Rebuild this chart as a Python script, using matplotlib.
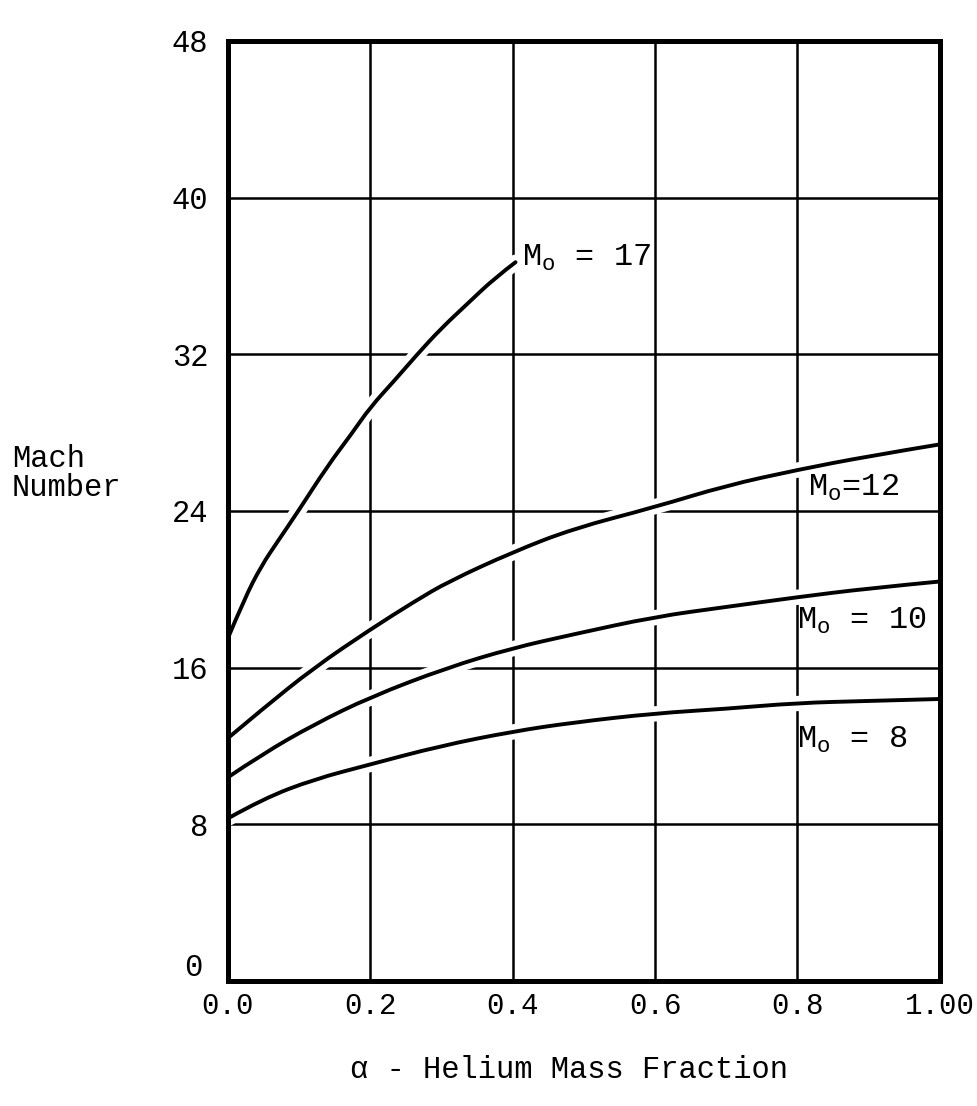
import matplotlib
matplotlib.use("Agg")
import matplotlib.pyplot as plt
import matplotlib.patheffects as pe
from matplotlib.path import Path
from matplotlib.patches import PathPatch
from matplotlib.transforms import ScaledTranslation

plt.rcParams['font.family'] = ['Liberation Mono', 'DejaVu Sans Mono']
plt.rcParams['mathtext.default'] = 'regular'

# values
alpha_17 = [0.0, 0.023, 0.047, 0.071, 0.099, 0.14, 0.173, 0.2, 0.235, 0.266, 0.299, 0.337, 0.375, 0.404]
mach_17 = [17.5, 19.5, 21.2, 22.5, 24.0, 26.3, 27.9, 29.3, 30.7, 32.0, 33.3, 34.6, 35.9, 36.7]

alpha_12 = [0.0, 0.049, 0.121, 0.2, 0.263, 0.31, 0.4, 0.485, 0.6, 0.7, 0.8, 0.9, 1.0]
mach_12 = [12.4, 13.9, 16.0, 17.95, 19.4, 20.4, 21.9, 23.1, 24.2, 25.3, 26.1, 26.8, 27.4]

alpha_10 = [0.0, 0.049, 0.121, 0.2, 0.308, 0.4, 0.485, 0.6, 0.7, 0.8, 0.9, 1.0]
mach_10 = [10.4, 11.6, 13.1, 14.5, 16.0, 17.0, 17.7, 18.6, 19.1, 19.6, 20.05, 20.4]

alpha_8 = [0.0, 0.049, 0.121, 0.2, 0.298, 0.4, 0.485, 0.6, 0.7, 0.8, 0.9, 1.0]
mach_8 = [8.3, 9.3, 10.3, 11.06, 12.0, 12.74, 13.2, 13.67, 13.9, 14.2, 14.3, 14.4]

xticks = [0.0, 0.2, 0.4, 0.6, 0.8, 1.0]
xticklabels = ["0.0", "0.2", "0.4", "0.6", "0.8", "1.00"]
yticks = [0, 8, 16, 24, 32, 40, 48]


def smooth_path(xs, ys):
    # quadratic bezier pieces: read points act as control points, pieces join at midpoints
    pts = list(zip(xs, ys))
    verts = [pts[0]]
    codes = [Path.MOVETO]
    for i in range(1, len(pts) - 1):
        mid = ((pts[i][0] + pts[i + 1][0]) / 2, (pts[i][1] + pts[i + 1][1]) / 2)
        if i == len(pts) - 2:
            mid = pts[-1]
        verts += [pts[i], mid]
        codes += [Path.CURVE3, Path.CURVE3]
    return Path(verts, codes)


fig = plt.figure(figsize=(9.78, 11.06), dpi=100)
ax = fig.add_axes([0.233, 0.113, 0.728, 0.85])

# white halo under each curve breaks the grid lines like the hand-drafted original
halo = [pe.Stroke(linewidth=11, foreground="white"), pe.Normal()]
for a, m in [(alpha_17, mach_17), (alpha_12, mach_12), (alpha_10, mach_10), (alpha_8, mach_8)]:
    patch = PathPatch(smooth_path(a, m), fill=False, edgecolor="black", lw=2.8,
                      capstyle="round", joinstyle="round", path_effects=halo, zorder=2)
    ax.add_patch(patch)

ax.set_xlim(0, 1.0)
ax.set_ylim(0, 48)
ax.set_xticks(xticks)
ax.set_xticklabels(xticklabels)
ax.set_yticks(yticks)
ax.grid(True, color="black", lw=1.8, zorder=1)
ax.set_axisbelow(True)
ax.tick_params(length=0)
ax.tick_params(axis="y", labelsize=22, pad=14)
ax.tick_params(axis="x", labelsize=21, pad=8)
for s in ax.spines.values():
    s.set_linewidth(3.6)
    s.set_zorder(3)

# the "0" of the y axis sits up and to the left of "0.0"
zero = ax.get_yticklabels()[0]
zero.set_transform(zero.get_transform() + ScaledTranslation(-4 / 72, 12 / 72, fig.dpi_scale_trans))

lab = dict(fontsize=23, color="black", va="center", ha="left")
ax.text(0.413, 36.9, "M$_{o}$ = 17", **lab)
ax.text(0.815, 25.2, "M$_{o}$=12", **lab)
ax.text(0.80, 18.4, "M$_{o}$ = 10", **lab)
ax.text(0.80, 12.3, "M$_{o}$ = 8", **lab)

fig.text(0.012, 0.572, "Mach\nNumber", fontsize=22, ha="left", va="center", linespacing=0.95)
fig.text(0.582, 0.033, "α - Helium Mass Fraction", fontsize=22, ha="center", va="center")

plt.savefig("out.png", dpi=100, facecolor="white")
